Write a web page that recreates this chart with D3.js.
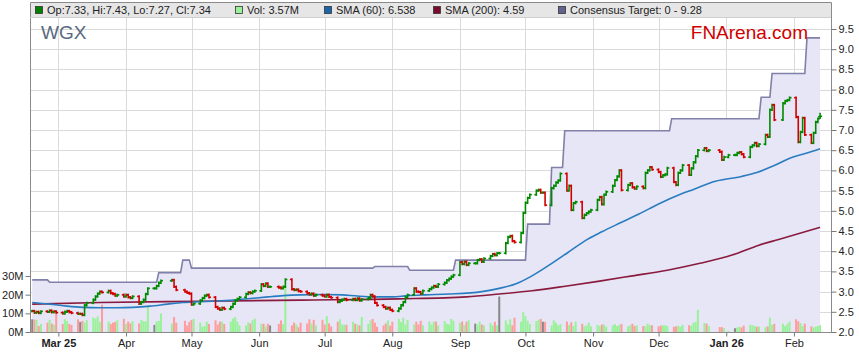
<!DOCTYPE html>
<html lang="en">
<head>
<meta charset="UTF-8">
<title>WGX price chart</title>
<script src="https://d3js.org/d3.v7.min.js"></script>
<style>
  body { margin: 0; background: #fff; overflow: hidden; }
  svg { display: block; font-family: "Liberation Sans", Arial, sans-serif; }
  .axis text { font-size: 11px; fill: #222; }
  .axis path, .axis line { stroke: #777; }
</style>
</head>
<body>
<svg width="859" height="363"></svg>
<script>
// ---- data ----
const firstMonday = new Date(2025, 1, 17);

// daily closes, one row per week Mon..Fri, null = market holiday
const closes = [
  [2.52, 2.48, 2.50, 2.47, 2.51], [2.50, 2.53, 2.49, 2.51, 2.48], [2.46, 2.50, 2.52, 2.49, 2.47],
  [2.45, 2.45, 2.42, 2.66, 2.72], [2.80, 2.88, 2.95, 3.00, 2.98], [3.02, 2.96, 2.94, 2.90, 2.92],
  [2.88, 2.92, 2.86, 2.84, 2.88], [2.70, 2.74, 2.80, 2.94, 3.08], [3.08, 3.14, 3.22, 3.27, null],
  [null, 3.29, 3.12, 3.04, null], [3.00, 2.97, 2.95, 2.68, 2.70], [2.78, 2.84, 2.90, 2.92, 2.86],
  [2.62, 2.58, 2.55, 2.60, 2.57], [2.62, 2.70, 2.78, 2.82, 2.86], [2.94, 2.98, 2.96, 3.00, 3.02],
  [3.18, 3.14, 3.20, 3.12, 3.12], [null, 3.10, 3.08, 3.12, 3.30], [3.06, 3.04, 3.05, 3.01, 3.00],
  [2.96, 2.93, 2.95, 2.90, 2.92], [2.90, 2.88, 2.92, 2.87, 2.85], [2.74, 2.77, 2.80, 2.82, 2.79],
  [2.82, 2.79, 2.83, 2.78, 2.81], [2.84, 2.92, 2.88, 2.72, 2.66], [2.62, 2.58, 2.60, 2.55, 2.52],
  [2.58, 2.66, 2.74, 2.86, 2.92], [3.08, 3.00, 2.99, 2.95, 3.02], [3.06, 3.10, 3.14, 3.12, 3.18],
  [3.22, 3.28, 3.32, 3.37, 3.41], [3.73, 3.68, 3.74, 3.66, 3.70], [3.70, 3.78, 3.80, 3.74, 3.82],
  [3.88, 3.93, 3.90, 3.95, 3.95], [4.20, 4.35, 4.38, 4.25, 4.22], [4.45, 4.95, 5.20, 5.32, 5.40],
  [5.50, 5.52, 5.45, 5.45, 5.14], [5.56, 5.62, 5.70, 5.75, 5.92], [5.50, 5.62, 5.02, 5.19, 5.22],
  [4.82, 4.90, 4.94, 4.98, 5.02], [5.27, 5.34, 5.16, 5.40, 5.47], [5.62, 5.76, 5.85, 6.00, 5.51],
  [5.64, 5.68, 5.58, 5.55, 5.60], [5.56, 5.94, 6.00, 6.08, 6.02], [5.96, 5.84, 5.88, 5.90, 6.06],
  [5.71, 5.64, 5.94, 6.00, 6.13], [5.89, 6.05, 6.20, 6.35, 6.50], [6.55, 6.48, 6.50, null, null],
  [6.46, 6.26, 6.33, null, 6.38], [6.38, 6.43, 6.45, 6.40, 6.33], [6.58, 6.62, 6.68, 6.60, 6.65],
  [6.88, 6.83, 7.50, 7.62, 7.25], [null, 7.66, 7.72, 7.74, 7.80], [7.32, 6.70, 6.95, 7.30, 6.88],
  [6.68, 6.93, 7.20, 7.28, 7.34]
];

// daily volume in millions, same layout
const volumes = [
  [6.8, 6.6, 6.5, 3.2, 4.3], [5.0, 6.5, 4.5, 3.8, 10.0], [4.3, 6.8, 5.8, 4.3, 3.8],
  [6.8, 5.4, 6.0, 5.0, 6.4], [7.7, 7.2, 8.3, 5.5, 14.6], [5.6, 4.3, 5.0, 5.4, 6.3],
  [7.1, 4.3, 5.6, 4.6, 5.8], [4.6, 6.5, 5.8, 5.6, 13.6], [3.8, 5.6, 6.0, 10.0, null],
  [null, 4.5, 8.0, 5.0, null], [6.0, 3.5, 5.5, 6.5, 7.0], [5.0, 2.8, 3.2, 5.5, 4.3],
  [6.3, 4.0, 5.6, 5.5, 4.3], [5.6, 7.2, 8.0, 5.6, 3.5], [3.5, 5.2, 4.5, 6.3, 7.2],
  [4.4, 4.4, 3.0, 4.4, 3.5], [null, 4.4, 6.2, 4.2, 25.0], [3.5, 5.0, 4.0, 2.6, 5.0],
  [4.6, 6.8, 4.6, 6.5, 3.5], [6.5, 4.0, 8.4, 4.6, 3.0], [5.5, 6.8, 4.0, 4.0, 3.8],
  [5.5, 4.4, 4.0, 3.6, 8.0], [4.4, 6.3, 7.0, 5.0, 2.8], [3.5, 4.6, 6.2, 3.4, 5.5],
  [7.0, 5.3, 7.6, 4.0, 6.5], [4.0, 5.5, 4.0, 6.0, 3.6], [5.6, 4.0, 5.6, 5.6, 3.5],
  [5.8, 4.4, 4.0, 7.0, 6.0], [5.0, 5.6, 3.6, 5.5, 6.3], [4.5, 4.0, 5.5, 4.0, 3.6],
  [4.8, 3.5, 5.5, 3.5, 19.0], [6.2, 4.0, 6.8, 3.6, 7.7], [5.5, 10.7, 8.5, 6.0, 4.3],
  [5.8, 6.5, 7.0, 5.5, 5.5], [3.5, 6.3, 5.0, 3.6, 4.2], [5.6, 3.8, 5.2, 3.2, 5.6],
  [4.4, 3.0, 3.5, 5.0, 3.0], [3.8, 3.2, 4.0, 4.0, 2.8], [3.6, 4.2, 3.2, 3.8, 4.3],
  [3.0, 3.6, 4.4, 3.2, 3.6], [3.2, 3.0, 4.4, 3.8, 3.6], [3.0, 3.4, 3.6, 3.6, 3.2],
  [2.8, 3.0, 3.4, 2.8, 3.8], [3.6, 3.4, 5.0, 5.4, 11.8], [4.8, 4.5, 3.2, null, null],
  [2.6, 2.6, 2.0, null, 0.6], [2.0, 2.4, 2.8, 2.4, 3.4], [3.8, 3.6, 3.3, 2.8, 3.0],
  [2.6, 3.0, 7.7, 3.8, 4.4], [null, 4.4, 3.2, 4.4, 5.6], [6.8, 5.8, 4.8, 3.2, 4.5],
  [3.0, 2.5, 2.8, 3.2, 3.57]
];

const lastBar = { open: 7.33, high: 7.43, low: 7.27, close: 7.34 };

// consensus target: date the value starts, value
const consensusSteps = [
  ["2025-02-17", 3.29], ["2025-02-25", 3.23], ["2025-04-16", 3.47], ["2025-04-27", 3.78],
  ["2025-05-01", 3.58], ["2025-07-24", 3.62], ["2025-08-09", 3.53], ["2025-08-30", 3.78],
  ["2025-10-02", 4.67], ["2025-10-13", 6.07], ["2025-10-19", 6.98], ["2025-12-07", 7.28],
  ["2026-01-17", 7.81], ["2026-01-22", 8.40], ["2026-02-07", 9.28]
];
const consensusEnd = "2026-02-13";

const sma60 = [
  ["2025-02-17", 2.73], ["2025-02-25", 2.69], ["2025-03-05", 2.64], ["2025-03-12", 2.61],
  ["2025-03-20", 2.60], ["2025-03-28", 2.60], ["2025-04-04", 2.61], ["2025-04-12", 2.64],
  ["2025-04-20", 2.69], ["2025-04-27", 2.73], ["2025-05-05", 2.75], ["2025-05-13", 2.77],
  ["2025-05-20", 2.79], ["2025-05-28", 2.83], ["2025-06-05", 2.87], ["2025-06-12", 2.90],
  ["2025-06-20", 2.92], ["2025-07-01", 2.93], ["2025-07-09", 2.92], ["2025-07-16", 2.89],
  ["2025-07-24", 2.87], ["2025-08-01", 2.87], ["2025-08-08", 2.90], ["2025-08-16", 2.92],
  ["2025-08-27", 2.94], ["2025-09-11", 3.00], ["2025-09-19", 3.08], ["2025-09-27", 3.20],
  ["2025-10-04", 3.39], ["2025-10-12", 3.66], ["2025-10-20", 3.95], ["2025-10-29", 4.28],
  ["2025-11-05", 4.48], ["2025-11-13", 4.69], ["2025-11-22", 4.92], ["2025-12-01", 5.17],
  ["2025-12-11", 5.41], ["2025-12-17", 5.53], ["2025-12-27", 5.73], ["2026-01-08", 5.85],
  ["2026-01-15", 5.95], ["2026-01-23", 6.12], ["2026-01-31", 6.32], ["2026-02-07", 6.43],
  ["2026-02-13", 6.538]
];

const sma200 = [
  ["2025-02-17", 2.69], ["2025-03-20", 2.73], ["2025-05-05", 2.76], ["2025-06-20", 2.79],
  ["2025-08-04", 2.82], ["2025-09-04", 2.87], ["2025-09-19", 2.94], ["2025-10-04", 3.02],
  ["2025-10-20", 3.14], ["2025-11-04", 3.26], ["2025-11-19", 3.39], ["2025-12-05", 3.53],
  ["2025-12-20", 3.70], ["2026-01-04", 3.91], ["2026-01-16", 4.15], ["2026-01-25", 4.29],
  ["2026-02-13", 4.59]
];

const priceTicks = [2.0, 2.5, 3.0, 3.5, 4.0, 4.5, 5.0, 5.5, 6.0, 6.5, 7.0, 7.5, 8.0, 8.5, 9.0, 9.5];
const volumeTicks = [0, 10, 20, 30];
const monthTicks = ["2025-03-01", "2025-04-01", "2025-05-01", "2025-06-01", "2025-07-01", "2025-08-01",
  "2025-09-01", "2025-10-01", "2025-11-01", "2025-12-01", "2026-01-01", "2026-02-01"];
const monthLabels = ["Mar 25", "Apr", "May", "Jun", "Jul", "Aug", "Sep", "Oct", "Nov", "Dec", "Jan 26", "Feb"];

// ---- layout ----
const plotLeft = 30, plotRight = 831, plotTop = 17, plotBottom = 332;
const parse = d3.timeParse("%Y-%m-%d");

const x = d3.scaleTime()
  .domain([new Date(2025, 1, 16), new Date(2026, 1, 18)])
  .range([plotLeft, plotRight]);
const y = d3.scaleLinear().domain([2, 9.5]).range([plotBottom, 29]);
const yVol = d3.scaleLinear().domain([0, 30]).range([plotBottom, 276]);

// flatten weekly rows into trading days
const days = [];
closes.forEach((week, k) => {
  week.forEach((c, d) => {
    if (c === null) return;
    const date = d3.timeDay.offset(firstMonday, k * 7 + d);
    days.push({ date, close: c, volume: volumes[k][d] });
  });
});
days.forEach((p, i) => {
  p.prev = i > 0 ? days[i - 1].close : p.close;
  p.open = p.prev;
  p.high = Math.max(p.open, p.close) + 0.03;
  p.low = Math.min(p.open, p.close) - 0.03;
});
Object.assign(days[days.length - 1], lastBar);

const svg = d3.select("svg");

// legend band
svg.append("rect")
  .attr("x", plotLeft).attr("y", 2.5).attr("width", plotRight - plotLeft).attr("height", plotTop - 2.5)
  .attr("fill", "#e6e6e6");

// grid
const grid = svg.append("g").attr("stroke", "#dadada").attr("stroke-width", 1);
grid.selectAll("line.h").data(priceTicks.slice(1)).join("line")
  .attr("x1", plotLeft).attr("x2", plotRight)
  .attr("y1", d => Math.round(y(d)) + 0.5).attr("y2", d => Math.round(y(d)) + 0.5);
grid.selectAll("line.v").data(monthTicks).join("line")
  .attr("y1", plotTop).attr("y2", plotBottom)
  .attr("x1", d => Math.round(x(parse(d))) + 0.5).attr("x2", d => Math.round(x(parse(d))) + 0.5);

// consensus target area + line
const consPts = [];
consensusSteps.forEach(([d, v], i) => {
  const dt = parse(d);
  if (i > 0) consPts.push([d3.timeDay.offset(dt, -1), consensusSteps[i - 1][1]]);
  consPts.push([dt, v]);
});
consPts.push([parse(consensusEnd), consensusSteps[consensusSteps.length - 1][1]]);

svg.append("path")
  .datum(consPts)
  .attr("fill", "#e6e6f6")
  .attr("d", d3.area().x(d => x(d[0])).y0(plotBottom).y1(d => y(d[1])));
svg.append("path")
  .datum(consPts)
  .attr("fill", "none")
  .attr("stroke", "#8080a8")
  .attr("stroke-width", 1.6)
  .attr("d", d3.line().x(d => x(d[0])).y(d => y(d[1])));

// volume
svg.append("g").selectAll("rect").data(days).join("rect")
  .attr("x", d => x(d.date) - 1)
  .attr("width", 2)
  .attr("y", d => yVol(d.volume))
  .attr("height", d => plotBottom - yVol(d.volume))
  .attr("fill", d => d.close > d.prev ? "#99f299" : d.close < d.prev ? "#ff9c9c" : "#888");

// moving averages
const smaLine = d3.line().curve(d3.curveMonotoneX).x(d => x(parse(d[0]))).y(d => y(d[1]));
svg.append("path").datum(sma200)
  .attr("fill", "none").attr("stroke", "#8a1a3e").attr("stroke-width", 1.6).attr("d", smaLine);
svg.append("path").datum(sma60)
  .attr("fill", "none").attr("stroke", "#2a7cc0").attr("stroke-width", 1.6).attr("d", smaLine);

// OHLC bars
const bars = svg.append("g").attr("stroke-width", 1.6)
  .selectAll("g").data(days).join("g")
  .attr("stroke", d => d.close >= d.prev ? "#008a00" : "#d40000");
bars.append("line")
  .attr("x1", d => x(d.date)).attr("x2", d => x(d.date))
  .attr("y1", d => y(d.high)).attr("y2", d => y(d.low));
bars.append("line")
  .attr("x1", d => x(d.date) - 2).attr("x2", d => x(d.date))
  .attr("y1", d => y(d.open)).attr("y2", d => y(d.open));
bars.append("line")
  .attr("x1", d => x(d.date)).attr("x2", d => x(d.date) + 2)
  .attr("y1", d => y(d.close)).attr("y2", d => y(d.close));

// frame
svg.append("path")
  .attr("d", `M${plotLeft + 0.5},2.5 H${plotRight + 0.5} V${plotBottom + 0.5} H${plotLeft + 0.5} Z`)
  .attr("fill", "none").attr("stroke", "#8a8a8a");
svg.append("line")
  .attr("x1", plotLeft).attr("x2", plotRight).attr("y1", plotTop + 0.5).attr("y2", plotTop + 0.5)
  .attr("stroke", "#cfcfcf");

// axes
svg.append("g").attr("class", "axis")
  .attr("transform", `translate(${plotRight + 0.5},0)`)
  .call(d3.axisRight(y).tickValues(priceTicks).tickFormat(d3.format(".1f")).tickSize(5).tickPadding(2))
  .call(g => g.select(".domain").remove());
svg.append("g").attr("class", "axis")
  .attr("transform", `translate(${plotLeft + 0.5},0)`)
  .call(d3.axisLeft(yVol).tickValues(volumeTicks).tickFormat(d => d + "M").tickSize(5).tickPadding(2))
  .call(g => g.select(".domain").remove());
svg.append("g").attr("class", "axis")
  .attr("transform", `translate(0,${plotBottom + 0.5})`)
  .call(d3.axisBottom(x).tickValues(monthTicks.map(parse)).tickFormat((d, i) => monthLabels[i])
    .tickSize(4).tickPadding(3))
  .call(g => g.select(".domain").remove())
  .call(g => g.selectAll("text").attr("font-weight", (d, i) => monthLabels[i].includes(" ") ? "bold" : null));

// legend
const legendItems = [
  { x: 35, color: "#008000",
    text: `Op:${lastBar.open.toFixed(2)}, Hi:${lastBar.high.toFixed(2)}, Lo:${lastBar.low.toFixed(2)}, Cl:${lastBar.close.toFixed(2)}` },
  { x: 235, color: "#99f299", text: `Vol: ${days[days.length - 1].volume}M` },
  { x: 324, color: "#1a64a8", text: `SMA (60): ${sma60[sma60.length - 1][1]}` },
  { x: 433, color: "#7a0a2e", text: `SMA (200): ${sma200[sma200.length - 1][1]}` },
  { x: 558, color: "#62628e", text: `Consensus Target: 0 - ${consensusSteps[consensusSteps.length - 1][1]}` }
];
const leg = svg.append("g").selectAll("g").data(legendItems).join("g");
leg.append("rect")
  .attr("x", d => d.x + 0.5).attr("y", 6.5).attr("width", 7).attr("height", 7)
  .attr("fill", d => d.color).attr("stroke", "#333").attr("stroke-width", 0.8);
leg.append("text")
  .attr("x", d => d.x + 12).attr("y", 14)
  .attr("font-size", 11).attr("fill", "#222")
  .text(d => d.text);

svg.append("text").attr("x", 41).attr("y", 39)
  .attr("font-size", 19).attr("fill", "#5a6a80").text("WGX");
svg.append("text").attr("x", 808).attr("y", 38.5).attr("text-anchor", "end")
  .attr("font-size", 19).attr("fill", "#d00000").text("FNArena.com");
</script>
</body>
</html>
